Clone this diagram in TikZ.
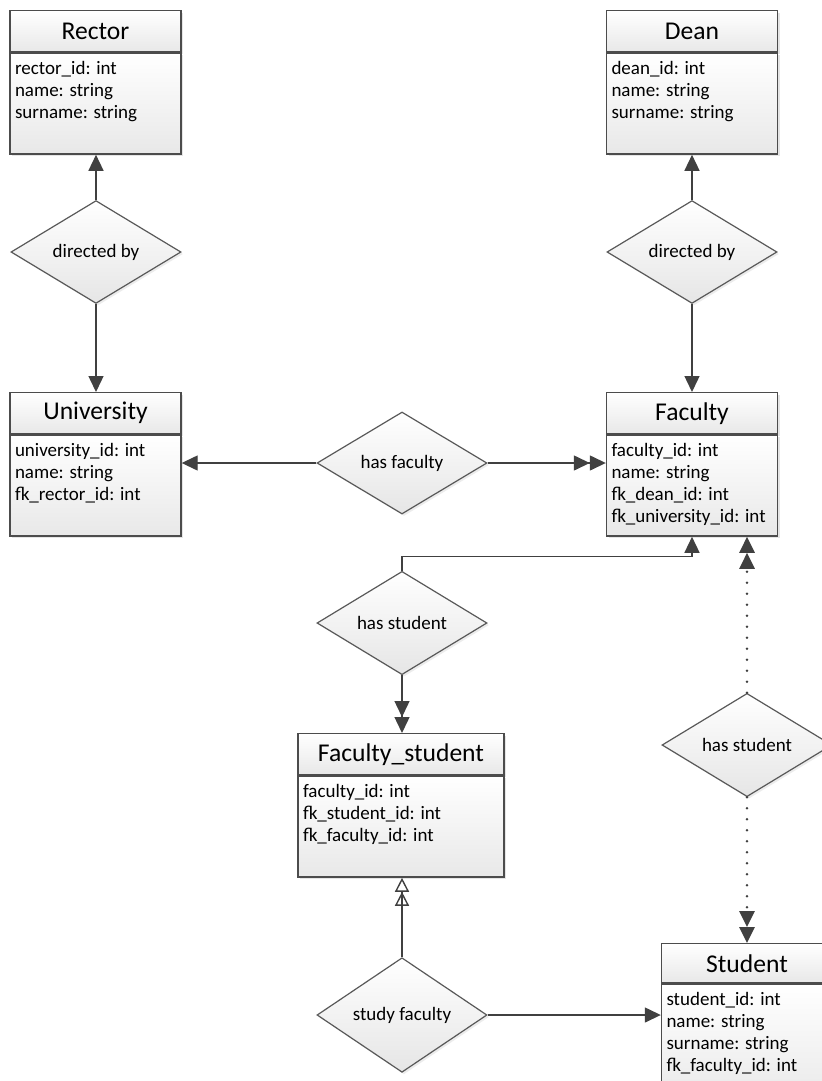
\documentclass[tikz,border=0pt]{standalone}
\usepackage{fontspec}
\setmainfont{Carlito}
\usetikzlibrary{shapes.geometric, positioning, arrows.meta, shadows}
\tikzset{
  entity/.style={rectangle, draw=black!70, line width=0.7pt, top color=white, bottom color=black!9, minimum width=85.5pt, minimum height=20.5pt, inner sep=0pt, font=\fontsize{12.8}{15}\selectfont, drop shadow={shadow xshift=1pt, shadow yshift=-1pt, opacity=0.2}},
  attrs/.style={rectangle, draw=black!70, line width=0.7pt, top color=white, bottom color=black!9, minimum width=85.5pt, inner xsep=2.5pt, inner ysep=0pt, font=\fontsize{9.5}{11}\selectfont, drop shadow={shadow xshift=1pt, shadow yshift=-1pt, opacity=0.2}},
  relation/.style={diamond, draw=black!65, line width=0.6pt, top color=white, bottom color=black!10, minimum width=85pt, minimum height=51pt, inner sep=0pt, font=\fontsize{9.5}{11}\selectfont, drop shadow={shadow xshift=1pt, shadow yshift=-1pt, opacity=0.15}},
  arrow/.style={draw=black!75, line width=0.7pt, -{Triangle[length=8pt,width=7.5pt]}},
  arrow2/.style={draw=black!75, line width=0.7pt, -{Triangle[length=8pt,width=7.5pt]Triangle[length=8pt,width=7.5pt]}},
  arrowopen/.style={draw=black!75, line width=0.7pt, -{Triangle[open,length=7pt,width=7pt]Triangle[open,length=7pt,width=7pt]}},
  dotline/.style={line width=1.4pt, line cap=round, dash pattern=on 0pt off 5.5pt}
}
% lista de atributos alineada arriba
\newcommand{\fields}[3]{\parbox[t][#2][t]{#1}{\rule{0pt}{10.5pt}#3}}

\begin{document}
\begin{tikzpicture}[x=0.5pt, y=-0.5pt]
  \fill[white] (0,0) rectangle (822,1081);
  \useasboundingbox (0,0) rectangle (822,1081);
  \clip (0,0) rectangle (822,1081);

  % Entidades
  \node (rector) [entity, anchor=north] at (95.5,10) {Rector};
  \node (rector_attr) [attrs, below=0pt of rector] {\fields{80.5pt}{50.5pt}{rector\_id: int\\name: string\\surname: string}};

  \node (dean) [entity, anchor=north] at (692,10) {Dean};
  \node (dean_attr) [attrs, below=0pt of dean] {\fields{80.5pt}{50.5pt}{dean\_id: int\\name: string\\surname: string}};

  \node (university) [entity, anchor=north] at (95.5,392) {University};
  \node (university_attr) [attrs, below=0pt of university] {\fields{80.5pt}{50.5pt}{university\_id: int\\name: string\\fk\_rector\_id: int}};

  \node (faculty) [entity, anchor=north] at (692,392) {Faculty};
  \node (faculty_attr) [attrs, below=0pt of faculty] {\fields{80.5pt}{50.5pt}{faculty\_id: int\\name: string\\fk\_dean\_id: int\\fk\_university\_id: int}};

  \node (faculty_student) [entity, anchor=north, minimum width=103pt] at (401,733) {Faculty\_student};
  \node (faculty_student_attr) [attrs, minimum width=103pt, below=0pt of faculty_student] {\fields{98pt}{50.5pt}{faculty\_id: int\\fk\_student\_id: int\\fk\_faculty\_id: int}};

  \node (student) [entity, anchor=north, minimum height=19.5pt] at (747,943) {Student};
  \node (student_attr) [attrs, below=0pt of student] {\fields{80.5pt}{62pt}{student\_id: int\\name: string\\surname: string\\fk\_faculty\_id: int}};

  % Relaciones
  \node (dir_rector) [relation] at (96,252) {directed by};
  \node (dir_dean) [relation] at (692,252) {directed by};
  \node (has_faculty) [relation] at (402,463) {has faculty};
  \node (has_student_fs) [relation] at (402,623) {has student};
  \node (has_student) [relation] at (747,745) {has student};
  \node (study_faculty) [relation] at (402,1015) {study faculty};

  % Conexiones
  \draw [arrow] (dir_rector.north) -- (dir_rector.north |- rector_attr.south);
  \draw [arrow] (dir_rector.south) -- (dir_rector.south |- university.north);
  \draw [arrow] (dir_dean.north) -- (dir_dean.north |- dean_attr.south);
  \draw [arrow] (dir_dean.south) -- (dir_dean.south |- faculty.north);

  \draw [arrow] (has_faculty.west) -- (has_faculty.west -| university_attr.east);
  \draw [arrow2] (has_faculty.east) -- (has_faculty.east -| faculty_attr.west);

  % has student hacia Faculty por arriba
  \path (has_student_fs.north) ++(0,-14) coordinate (fs_bend);
  \draw [arrow] (has_student_fs.north) -- (fs_bend) -| (faculty_attr.south);
  \draw [arrow2] (has_student_fs.south) -- (has_student_fs.south |- faculty_student.north);

  % Relacion punteada
  \draw [arrow2, dotline] (has_student.north) -- (has_student.north |- faculty_attr.south);
  \draw [arrow2, dotline] (has_student.south) -- (has_student.south |- student.north);

  \draw [arrowopen] (study_faculty.north) -- (study_faculty.north |- faculty_student_attr.south);
  \draw [arrow] (study_faculty.east) -- (study_faculty.east -| student_attr.west);
\end{tikzpicture}
\end{document}
